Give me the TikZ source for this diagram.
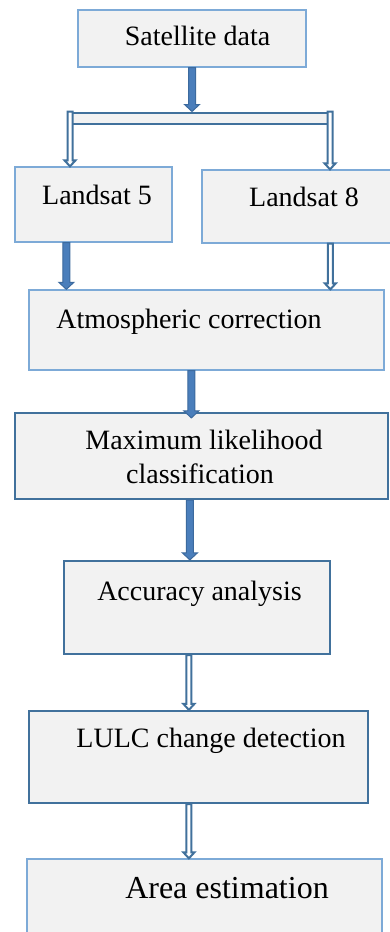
\documentclass[tikz,border=0pt]{standalone}
\usepackage{fontspec}
\setmainfont{Liberation Serif}
\usetikzlibrary{calc}
\definecolor{lightb}{RGB}{125,170,215}
\definecolor{darkb}{RGB}{65,113,156}
\definecolor{boxfill}{RGB}{242,242,242}
\definecolor{arrfill}{RGB}{74,126,187}
\definecolor{arrline}{RGB}{60,106,158}
\tikzset{
 boxl/.style={draw=lightb, line width=1.3pt, fill=boxfill, inner sep=0pt},
 boxd/.style={draw=darkb, line width=2.2pt, fill=boxfill, inner sep=0pt},
 lbl/.style={anchor=base, inner sep=0pt, font=\fontsize{28}{32}\selectfont},
 lblbig/.style={anchor=base, inner sep=0pt, font=\fontsize{32}{36}\selectfont},
 thickarr/.style={fill=arrfill, draw=arrline, line width=1pt, line join=miter},
 hollowarr/.style={fill=white, draw=darkb, line width=2pt, line join=miter},
}
\newcommand\fatarrow[2]{\filldraw[thickarr] let \p1=(#1), \p2=(#2) in
 (\x1-3.5pt,\y1) -- (\x1-3.5pt,\y2+7pt) -- (\x1-7.5pt,\y2+7pt) -- (\x1,\y2)
 -- (\x1+7.5pt,\y2+7pt) -- (\x1+3.5pt,\y2+7pt) -- (\x1+3.5pt,\y1) -- cycle;}
\newcommand\thinarrow[2]{\filldraw[hollowarr] let \p1=(#1), \p2=(#2) in
 (\x1-2.5pt,\y1) -- (\x1-2.5pt,\y2+6pt) -- (\x1-5.5pt,\y2+6pt) -- (\x1,\y2)
 -- (\x1+5.5pt,\y2+6pt) -- (\x1+2.5pt,\y2+6pt) -- (\x1+2.5pt,\y1) -- cycle;}
\begin{document}
\begin{tikzpicture}[x=1pt,y=-1pt]
\useasboundingbox (0,0) rectangle (389,932);
\fill[white] (0,0) rectangle (389,932);
% boxes
\node[boxl, minimum width=228pt, minimum height=57pt] (sat) at (192,38.5) {};
\node[boxl, minimum width=157pt, minimum height=75pt] (l5) at (93.5,204.5) {};
\node[boxl, minimum width=190pt, minimum height=73pt] (l8) at (297,206.5) {};
\node[boxl, minimum width=355pt, minimum height=80pt] (atm) at (206.5,330) {};
\node[boxd, minimum width=373pt, minimum height=86pt] (ml) at (201.5,456) {};
\node[boxd, minimum width=266pt, minimum height=93pt] (acc) at (197,607.5) {};
\node[boxd, minimum width=339pt, minimum height=92pt] (lulc) at (198.5,757) {};
\node[boxl, minimum width=355pt, minimum height=86pt] (area) at (204.5,902) {};
% splitter bar
\node[draw=darkb, line width=2pt, fill=boxfill, inner sep=0pt,
      minimum width=264pt, minimum height=11pt] (bar) at (200,118) {};
% labels
\node[lbl] (satT) at (197.5,45) {Satellite data};
\node[lbl] (l5T) at (97,204) {Landsat 5};
\node[lbl] (l8T) at (304,206) {Landsat 8};
\node[lbl] (atmT) at (189,328) {Atmospheric correction};
\node[lbl] (mlT1) at (204,449) {Maximum likelihood};
\node[lbl] (mlT2) at (200,483) {classification};
\node[lbl] (accT) at (199.5,600) {Accuracy analysis};
\node[lbl] (lulcT) at (211,747) {LULC change detection};
\node[lblbig] (areaT) at (227,898) {Area estimation};
% connectors
\fatarrow{sat.south}{bar.north}
\thinarrow{$(bar.north west)+(3,0)$}{l5.north}
\thinarrow{$(bar.north east)+(-3,0)$}{l8.north}
\fatarrow{$(l5.south west)+(52,0)$}{atm.north}
\thinarrow{$(l8.south west)+(129,0)$}{atm.north}
\fatarrow{$(atm.south west)+(163,0)$}{$(ml.north)+(0,6)$}
\fatarrow{$(ml.south west)+(176,0)$}{acc.north}
\thinarrow{$(acc.south west)+(126,0)$}{lulc.north}
\thinarrow{$(lulc.south west)+(161,0)$}{area.north}
\end{tikzpicture}
\end{document}
